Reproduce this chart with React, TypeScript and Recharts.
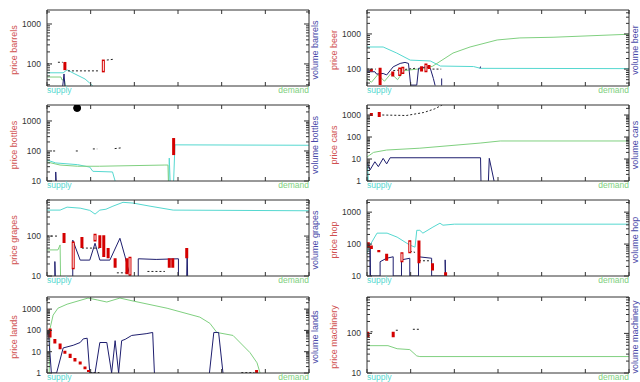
import React from 'react';
import { ComposedChart, Line, XAxis, YAxis } from 'recharts';

type P = [number, number] | null;
type C = [number, number, number];

// ---------- x axis ----------
const xTicks = [0, 1, 2, 3, 4, 5, 6];
const xLabelLeft = 'supply';
const xLabelRight = 'demand';

// ---------- barrels ----------
const barrelsSupply: P[] = [[0, 60], [0.37, 60], [0.46, 71], [0.64, 56], [0.87, 42], [0.98, 33], [1.05, 28]];
const barrelsDemand: P[] = [[0, 47], [0.32, 47], [0.34, 40], [0.4, 40], [0.42, 28]];
const barrelsVolume: P[] = [[0.36, 28], [0.39, 56], [0.41, 28]];
const barrelsCandles: C[] = [[0.41, 70, 112]];
const barrelsHollow: C[] = [[1.29, 67, 118]];
const barrelsPrice: P[] = [[0, 100], [0.1, 100], null, [0.25, 110], [0.36, 110], null, [0.48, 67], [1.2, 67], null, [1.37, 125], [1.55, 132]];

// ---------- beer ----------
const beerSupply: P[] = [[0, 425], [0.37, 425], [0.68, 286], [0.99, 180], [1.45, 170], [1.68, 122], [2.44, 118], [2.6, 105], [6, 103]];
const beerDemand: P[] = [[0, 55], [0.1, 42], [0.25, 70], [0.4, 45], [0.55, 75], [0.7, 50], [0.85, 90], [1.0, 95], [1.3, 105], [1.5, 120], [1.97, 286], [2.36, 425], [2.98, 673], [3.5, 770], [4.26, 805], [6, 980]];
const beerVolume: P[] = [[0, 84], [0.18, 84], [0.22, 72], [0.37, 75], [0.45, 68], [0.6, 116], [0.76, 145], [0.87, 155], [0.95, 145], [1.0, 35], [1.14, 35], [1.18, 105], [1.37, 116], [1.45, 105], [1.52, 54], [1.56, 34], null, [1.71, 34], [1.71, 54], null, [2.59, 105], [2.6, 118]];
const beerCandles: C[] = [[0.1, 85, 100], [0.3, 35, 110], [0.59, 62, 85], [1.25, 85, 120], [1.42, 100, 130]];
const beerHollow: C[] = [[0.75, 70, 100], [0.82, 80, 105], [1.35, 90, 130]];
const beerPrice: P[] = [[0, 100], [0.2, 100], null, [0.6, 90], [1.1, 105], null, [1.5, 100], [1.7, 100]];

// ---------- bottles ----------
const bottlesSupply: P[] = [[0, 50], [0.2, 40], [0.7, 35], [0.98, 29], [1.05, 21], [1.5, 20], [1.56, 10], null, [2.79, 10], [2.8, 58], [2.82, 10], null, [2.9, 10], [2.93, 160], [6, 155]];
const bottlesDemand: P[] = [[0, 43], [0.3, 34], [0.7, 31], [1.2, 31], [2.7, 34], [2.77, 34], [2.78, 10]];
const bottlesVolume: P[] = [[0.2, 10], [0.2, 20], [0.21, 10]];
const bottlesCandles: C[] = [[2.9, 73, 270]];
const bottlesHollow: C[] = [];
const bottlesPrice: P[] = [[0.14, 100], [0.2, 100], null, [0.66, 100], [0.72, 100], null, [1.05, 117], [1.15, 117], null, [1.55, 120], [1.72, 128]];
const bottlesDot: P[] = [[0.69, 2700]];

// ---------- cars ----------
const carsSupply: P[] = [[0, 1], [0.01, 7], [0.03, 1]];
const carsDemand: P[] = [[0, 12.3], [0.15, 20], [0.45, 25.6], [1.21, 31], [2.59, 53], [3.05, 66], [6, 66]];
const carsVolume: P[] = [[0, 7.5], [0.07, 3.2], [0.18, 7.5], [0.26, 4.5], [0.37, 10.7], [0.45, 6], [0.53, 11.4], [2.6, 11.4], [2.61, 1], null, [2.78, 1], [2.8, 10.7], [2.91, 1]];
const carsCandles: C[] = [[0.1, 900, 1230], [0.28, 810, 1370]];
const carsHollow: C[] = [];
const carsPrice: P[] = [[0.35, 1000], [0.9, 950], [1.3, 1300], [1.55, 1900], [1.72, 2850]];

// ---------- grapes ----------
const grapesSupply: P[] = [[0, 447], [0.3, 447], [0.46, 530], [0.76, 500], [0.98, 440], [1.1, 355], [1.21, 447], [1.35, 470], [1.51, 560], [1.74, 700], [1.97, 670], [2.36, 560], [2.89, 447], [6, 430]];
const grapesDemand: P[] = [[0, 45], [0.25, 45], [0.3, 60], [0.31, 10]];
const grapesVolume: P[] = [[0.18, 10], [0.18, 23], [0.19, 10], null, [0.59, 10], [0.59, 79], [0.76, 25], [0.98, 25], [1.1, 66], [1.21, 25], [1.44, 25], [1.67, 88], [1.79, 30], [1.9, 10], null, [2.09, 10], [2.09, 27], [2.5, 26], [3.01, 27], [3.01, 10], null, [3.2, 10], [3.21, 49], [3.22, 10]];
const grapesCandles: C[] = [[0.39, 67, 119], [0.8, 50, 95], [1.21, 50, 105], [1.3, 30, 105], [1.4, 28, 50], [1.56, 16, 28], [1.83, 11, 28], [2.8, 16, 28], [2.88, 16, 28], [3.2, 28, 50]];
const grapesHollow: C[] = [[0.6, 16, 67], [1.1, 80, 105], [1.9, 11, 28]];
const grapesPrice: P[] = [[0, 100], [0.25, 100], null, [0.8, 50], [1.2, 50], null, [1.6, 12], [1.8, 12], null, [2.3, 13], [2.7, 13]];

// ---------- hop ----------
const hopSupply: P[] = [[0, 52], [0.07, 93], [0.23, 220], [0.46, 220], [0.69, 165], [0.98, 93], [1.1, 80], [1.14, 270], [1.21, 270], [1.28, 220], [1.51, 340], [1.67, 450], [1.74, 390], [2.0, 420], [6, 420]];
const hopDemand: P[] = [];
const hopVolume: P[] = [[0.07, 10], [0.07, 73], [0.08, 10], [0.3, 10], [0.3, 28], [0.45, 36], [0.6, 40], [0.6, 10], [0.79, 10], [0.79, 32], [0.98, 36], [0.98, 10], [1.18, 10], [1.18, 40], [1.48, 36], [1.48, 10], [1.79, 10], [1.79, 32], [1.8, 10]];
const hopCandles: C[] = [[0.03, 75, 115], [0.1, 70, 90], [0.27, 55, 65], [0.45, 30, 50], [1.19, 25, 130], [1.5, 15, 25], [1.8, 10, 13]];
const hopHollow: C[] = [[0.8, 30, 50], [0.98, 57, 118]];
const hopPrice: P[] = [[0.98, 60], [1.1, 55], null, [1.19, 30], [1.48, 30]];

// ---------- lands ----------
const landsSupply: P[] = [];
const landsDemand: P[] = [[0.05, 1], [0.07, 124], [0.14, 520], [0.25, 1100], [0.46, 1700], [0.94, 3300], [1.15, 2700], [1.37, 2150], [1.67, 3300], [1.97, 2400], [2.75, 1100], [3.5, 420], [3.73, 215], [3.89, 80], [4.26, 58], [4.65, 9], [4.81, 3], [4.88, 1]];
const landsVolume: P[] = [[0, 60], [0.03, 100], [0.1, 1], [0.22, 1], [0.37, 15], [0.6, 20], [0.76, 27], [0.83, 40], [0.92, 43], [0.98, 1], [1.1, 1], [1.21, 27], [1.37, 27], [1.48, 1], [1.56, 33], [1.64, 1], [1.71, 33], [1.79, 38], [1.94, 58], [2.27, 70], [2.42, 80], [2.46, 1], null, [3.72, 1], [3.82, 80], [3.93, 80], [4.03, 1]];
const landsCandles: C[] = [[0.07, 46, 124], [0.18, 24, 40], [0.3, 13, 24], [0.41, 8, 11], [0.53, 5, 8], [0.64, 3.5, 5], [0.76, 2.5, 3.5], [0.87, 1.5, 2], [0.95, 1.1, 1.4], [4.8, 1, 1.4]];
const landsHollow: C[] = [];
const landsPrice: P[] = [[0.98, 1.05], [1.2, 1.05], null, [4.45, 1.05], [4.75, 1.05]];

// ---------- machinery ----------
const machinerySupply: P[] = [];
const machineryDemand: P[] = [[0, 49], [0.48, 49], [0.69, 41], [0.98, 39], [1.14, 27], [1.21, 26], [6, 26]];
const machineryVolume: P[] = [];
const machineryCandles: C[] = [[0.02, 80, 110], [0.6, 80, 110]];
const machineryHollow: C[] = [];
const machineryPrice: P[] = [[0.08, 110], [0.16, 110], null, [0.66, 120], [0.74, 120], null, [1.05, 127], [1.2, 127]];

// ---------- colours ----------
const AX = '#333';
const SUPPLY = '#55d8d0';
const DEMAND = '#80d080';
const VOLUME = '#1e1e6e';
const CANDLE = '#d40000';
const PRICE_LINE = '#222';
const PRICE_TITLE = '#d05050';
const VOL_TITLE = '#4848a8';

type Panel = {
  name: string; row: number; col: number; domain: [number, number];
  supply: P[]; demand: P[]; volume: P[]; candles: C[]; hollow: C[]; price: P[]; dot?: P[];
};

const panels: Panel[] = [
  { name: 'barrels', row: 0, col: 0, domain: [28, 2240], supply: barrelsSupply, demand: barrelsDemand, volume: barrelsVolume, candles: barrelsCandles, hollow: barrelsHollow, price: barrelsPrice },
  { name: 'beer', row: 0, col: 1, domain: [33, 4800], supply: beerSupply, demand: beerDemand, volume: beerVolume, candles: beerCandles, hollow: beerHollow, price: beerPrice },
  { name: 'bottles', row: 1, col: 0, domain: [10, 3400], supply: bottlesSupply, demand: bottlesDemand, volume: bottlesVolume, candles: bottlesCandles, hollow: bottlesHollow, price: bottlesPrice, dot: bottlesDot },
  { name: 'cars', row: 1, col: 1, domain: [1, 2850], supply: carsSupply, demand: carsDemand, volume: carsVolume, candles: carsCandles, hollow: carsHollow, price: carsPrice },
  { name: 'grapes', row: 2, col: 0, domain: [10, 800], supply: grapesSupply, demand: grapesDemand, volume: grapesVolume, candles: grapesCandles, hollow: grapesHollow, price: grapesPrice },
  { name: 'hop', row: 2, col: 1, domain: [10, 2400], supply: hopSupply, demand: hopDemand, volume: hopVolume, candles: hopCandles, hollow: hopHollow, price: hopPrice },
  { name: 'lands', row: 3, col: 0, domain: [1, 3700], supply: landsSupply, demand: landsDemand, volume: landsVolume, candles: landsCandles, hollow: landsHollow, price: landsPrice },
  { name: 'machinery', row: 3, col: 1, domain: [10, 830], supply: machinerySupply, demand: machineryDemand, volume: machineryVolume, candles: machineryCandles, hollow: machineryHollow, price: machineryPrice },
];

const rowTops = [0, 95, 190, 287];

const toLine = (pts: P[]) => {
  const out: { x: number; v: number | null }[] = [];
  let lastX = 0;
  for (const p of pts) {
    if (p === null) out.push({ x: lastX, v: null });
    else { out.push({ x: p[0], v: p[1] }); lastX = p[0]; }
  }
  return out;
};

const toCandles = (cs: C[]) => {
  const out: { x: number; v: number | null }[] = [];
  cs.forEach(([x, lo, hi]) => { out.push({ x, v: lo }, { x, v: hi }, { x, v: null }); });
  return out;
};

const logTicks = (lo: number, hi: number) => {
  const t: number[] = [];
  for (let e = 0; e < 5; e++) for (let m = 1; m < 10; m++) {
    const v = m * Math.pow(10, e);
    if (v >= lo * 0.999 && v <= hi * 1.001) t.push(v);
  }
  return t;
};
const isMajor = (v: number) => Math.abs(Math.log10(v) - Math.round(Math.log10(v))) < 1e-9;

const LeftTick = (props: any) => {
  const { x, y, payload } = props;
  const v = payload.value;
  const major = isMajor(v);
  return (
    <g>
      <line x1={x} y1={y} x2={x + (major ? 5 : 3)} y2={y} stroke={AX} strokeWidth={1} />
      {major && <text x={x - 6} y={y} dy="0.35em" textAnchor="end" fontSize={8.5} fill="#333">{v}</text>}
    </g>
  );
};
const RightTick = (props: any) => {
  const { x, y, payload } = props;
  const major = isMajor(payload.value);
  return <line x1={x} y1={y} x2={x - (major ? 5 : 3)} y2={y} stroke={AX} strokeWidth={1} />;
};
const BottomTick = (props: any) => {
  const { x, y, payload } = props;
  const v = payload.value;
  return (
    <g>
      <line x1={x} y1={y} x2={x} y2={y - 4} stroke={AX} strokeWidth={1} />
      {v === xTicks[0] && <text x={x} y={y + 7} textAnchor="start" fontSize={8.5} fill={SUPPLY}>{xLabelLeft}</text>}
      {v === xTicks[xTicks.length - 1] && <text x={x} y={y + 7} textAnchor="end" fontSize={8.5} fill={DEMAND}>{xLabelRight}</text>}
    </g>
  );
};
const TopTick = (props: any) => {
  const { x, y } = props;
  return <line x1={x} y1={y} x2={x} y2={y + 4} stroke={AX} strokeWidth={1} />;
};

const Title = (props: any) => {
  const { tx, ty, text, color } = props;
  return (
    <text x={tx} y={ty} transform={`rotate(-90 ${tx} ${ty})`} textAnchor="middle" dominantBaseline="central" fontSize={9} fill={color}>
      {text}
    </text>
  );
};

function PanelChart({ cfg }: { cfg: Panel }) {
  const ticks = logTicks(cfg.domain[0], cfg.domain[1]);
  const common = { xAxisId: 'b', yAxisId: 'l', dataKey: 'v', dot: false, isAnimationActive: false, activeDot: false } as any;
  return (
    <div style={{ position: 'absolute', left: cfg.col * 320, top: rowTops[cfg.row] }}>
      <ComposedChart width={320} height={95} margin={{ top: 0, right: 0, bottom: 0, left: 0 }}>
        <XAxis xAxisId="b" type="number" dataKey="x" domain={[0, 6]} ticks={xTicks} interval={0} height={9}
          tickSize={0} tickMargin={0} tickLine={false} axisLine={{ stroke: AX }} tick={<BottomTick />} allowDataOverflow />
        <XAxis xAxisId="t" orientation="top" type="number" dataKey="x" domain={[0, 6]} ticks={xTicks} interval={0} height={10}
          tickSize={0} tickMargin={0} tickLine={false} axisLine={{ stroke: AX }} tick={<TopTick />} allowDataOverflow />
        <YAxis yAxisId="l" type="number" scale="log" domain={cfg.domain} ticks={ticks} interval={0} width={47}
          tickSize={0} tickMargin={0} tickLine={false} axisLine={{ stroke: AX }} tick={<LeftTick />} allowDataOverflow
          label={<Title tx={13.5} ty={50} text={`price ${cfg.name}`} color={PRICE_TITLE} />} />
        <YAxis yAxisId="r" orientation="right" type="number" scale="log" domain={cfg.domain} ticks={ticks} interval={0} width={11}
          tickSize={0} tickMargin={0} tickLine={false} axisLine={{ stroke: AX }} tick={<RightTick />} allowDataOverflow
          label={<Title tx={315} ty={50} text={`volume ${cfg.name}`} color={VOL_TITLE} />} />
        <Line {...common} data={toLine(cfg.supply)} stroke={SUPPLY} strokeWidth={1} />
        <Line {...common} data={toLine(cfg.demand)} stroke={DEMAND} strokeWidth={1} />
        <Line {...common} data={toLine(cfg.volume)} stroke={VOLUME} strokeWidth={1} />
        <Line {...common} data={toLine(cfg.price)} stroke={PRICE_LINE} strokeWidth={1} strokeDasharray="2 2" />
        <Line {...common} data={toCandles(cfg.candles)} stroke={CANDLE} strokeWidth={3} />
        <Line {...common} data={toCandles(cfg.hollow)} stroke={CANDLE} strokeWidth={3} strokeLinecap="square" />
        <Line {...common} data={toCandles(cfg.hollow)} stroke="#fff" strokeWidth={1} />
        {cfg.dot && (
          <Line {...common} data={toLine(cfg.dot)} stroke="none" dot={{ r: 3.5, fill: '#000', stroke: '#000' }} />
        )}
      </ComposedChart>
    </div>
  );
}

export default function App() {
  return (
    <div style={{ position: 'absolute', left: 0, top: 0, width: 640, height: 382, background: '#fff', fontFamily: '"Liberation Sans", Arial, sans-serif' }}>
      {panels.map((p) => <PanelChart key={p.name} cfg={p} />)}
    </div>
  );
}
